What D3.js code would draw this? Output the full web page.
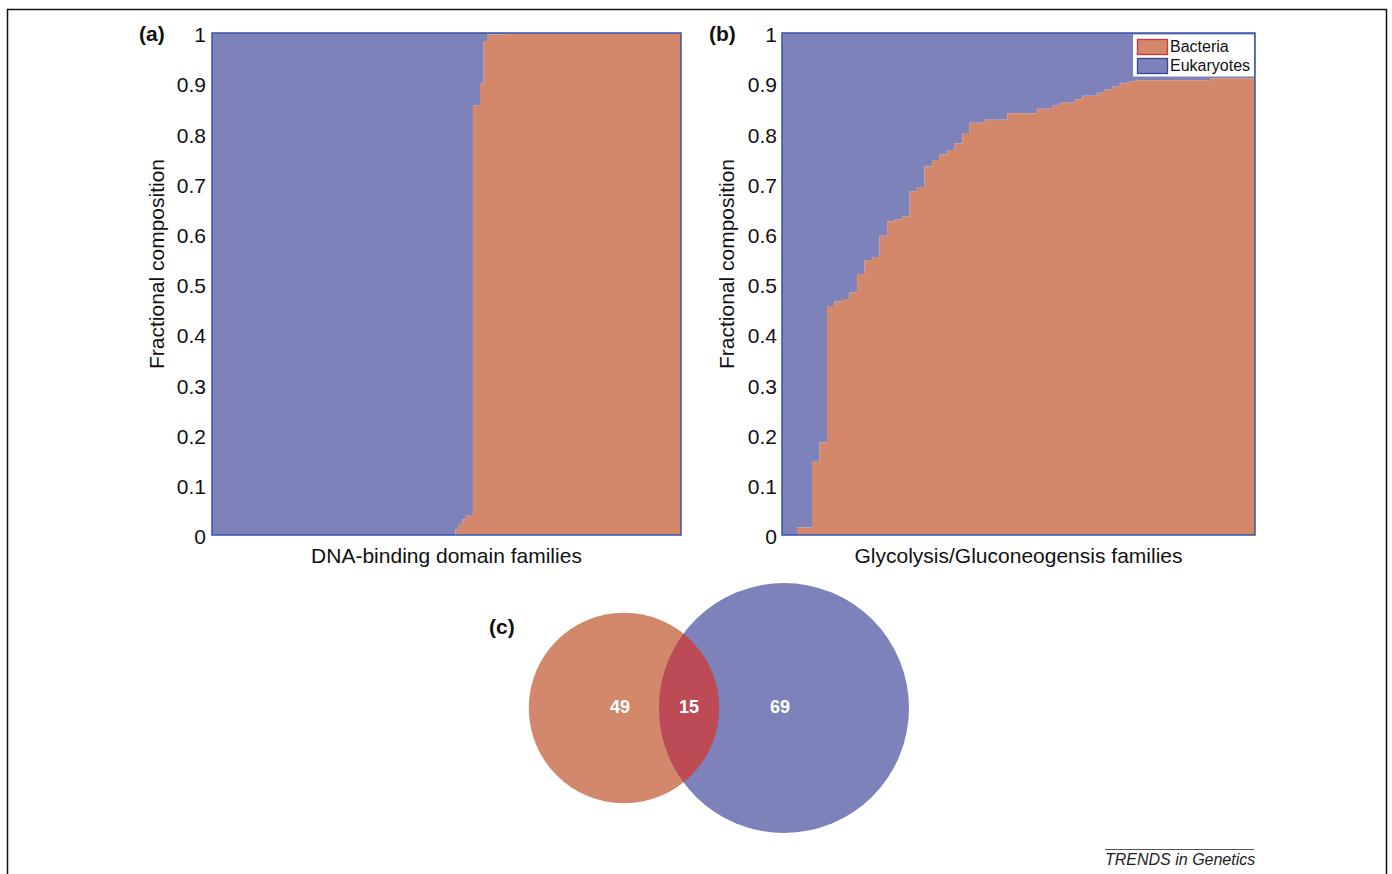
<!DOCTYPE html>
<html>
<head>
<meta charset="utf-8">
<script src="https://cdn.jsdelivr.net/npm/d3@7"></script>
<style>
  body { margin: 0; background: #fff; }
  svg { display: block; font-family: "Liberation Sans", Arial, sans-serif; }
</style>
</head>
<body>
<svg id="fig" width="1392" height="874"></svg>
<script>
// (a) DNA-binding domain families: bacterial fraction, run-length (value, number of families)
const dnaFraction = [0, 0.011, 0.022, 0.031, 0.04, 0.855, 0.9, 0.984, 0.997, 1];
const dnaCount    = [69, 1, 1, 1, 2, 2, 1, 1, 6, 49];

// (b) Glycolysis/Gluconeogenesis families: bacterial fraction, one per family
const glycoFraction = [
  0, 0, 0.015, 0.015, 0.146, 0.185, 0.456, 0.465, 0.47, 0.483,
  0.52, 0.548, 0.554, 0.596, 0.625, 0.629, 0.635, 0.685, 0.693, 0.734,
  0.747, 0.758, 0.767, 0.78, 0.801, 0.821, 0.821, 0.827, 0.827, 0.827,
  0.84, 0.84, 0.84, 0.84, 0.849, 0.849, 0.855, 0.861, 0.861, 0.868,
  0.875, 0.875, 0.881, 0.888, 0.893, 0.9, 0.903, 0.906, 0.906, 0.906,
  0.906, 0.906, 0.906, 0.906, 0.906, 0.906, 0.906, 0.91, 0.91, 0.91,
  0.91, 0.91, 0.91
];

const yTicks      = [0, 0.1, 0.2, 0.3, 0.4, 0.5, 0.6, 0.7, 0.8, 0.9, 1];
const yTickLabels = ["0", "0.1", "0.2", "0.3", "0.4", "0.5", "0.6", "0.7", "0.8", "0.9", "1"];
const legendNames = ["Bacteria", "Eukaryotes"];

// (c) Venn counts: bacteria only, shared, eukaryotes only
const vennLabels = ["49", "15", "69"];
const vennCounts = [49, 15, 69];

const colBact = "#d3886b";
const colEuk  = "#7e82ba";
const colBoth = "#bd4b55";

const svg = d3.select("#fig");

// outer frame
svg.append("path")
  .attr("d", "M7.5,880 V9.5 H1386.5 V880")
  .attr("fill", "none")
  .attr("stroke", "#111")
  .attr("stroke-width", 1.5);

class stackChart {
  init(box, values){
    let $this = this;
    $this.box = box;
    $this.values = values;
    $this.x = d3.scaleLinear().domain([0, values.length]).range([box.left, box.right]);
    $this.y = d3.scaleLinear().domain([0, 1]).range([box.bottom, box.top]);
    // step points, last value repeated at right edge
    $this.pts = values.map((v, i) => ({i: i, v: v}));
    $this.pts.push({i: values.length, v: values[values.length - 1]});
  }
  draw(tag, ylab, xlab, pad){
    let $this = this;
    let g = svg.append("g");
    let x = $this.x, y = $this.y;

    g.append("path")
      .datum($this.pts)
      .attr("fill", colEuk)
      .attr("d", d3.area().curve(d3.curveStepAfter)
        .x(d => x(d.i)).y0(d => y(d.v)).y1(y(1)));

    g.append("path")
      .datum($this.pts)
      .attr("fill", colBact)
      .attr("d", d3.area().curve(d3.curveStepAfter)
        .x(d => x(d.i)).y0(y(0)).y1(d => y(d.v)));

    g.append("rect")
      .attr("x", x.range()[0]).attr("y", y(1))
      .attr("width", x.range()[1] - x.range()[0])
      .attr("height", y(0) - y(1))
      .attr("fill", "none")
      .attr("stroke", "#3553ad")
      .attr("stroke-width", 1.5);

    let ax = g.append("g")
      .attr("transform", "translate(" + x.range()[0] + ",2)")
      .call(d3.axisLeft(y).tickValues(yTicks)
        .tickFormat((d, i) => yTickLabels[i])
        .tickSize(0).tickPadding(pad));
    ax.select(".domain").remove();
    ax.selectAll("text")
      .attr("font-size", 21)
      .attr("font-family", "Liberation Sans, Arial, sans-serif")
      .attr("fill", "#111");

    g.append("text")
      .attr("transform", "translate(" + (x.range()[0] - 48) + "," + ((y(0) + y(1)) / 2 - 20) + ") rotate(-90)")
      .attr("text-anchor", "middle")
      .attr("font-size", 21)
      .attr("fill", "#111")
      .text(ylab);

    g.append("text")
      .attr("x", (x.range()[0] + x.range()[1]) / 2)
      .attr("y", y(0) + 28)
      .attr("text-anchor", "middle")
      .attr("font-size", 21)
      .attr("fill", "#111")
      .text(xlab);

    g.append("text")
      .attr("x", x.range()[0] - 73)
      .attr("y", y(1) + 8)
      .attr("font-size", 21)
      .attr("font-weight", "bold")
      .attr("fill", "#111")
      .text(tag);
    return g;
  }
}

// expand run-length data for panel (a)
let dnaValues = [];
dnaFraction.forEach((v, k) => {
  for (let j = 0; j < dnaCount[k]; j++) dnaValues.push(v);
});

let chartA = new stackChart();
chartA.init({left: 212, right: 681, top: 33, bottom: 535}, dnaValues);
chartA.draw("(a)", "Fractional composition", "DNA-binding domain families", 6);

let chartB = new stackChart();
chartB.init({left: 782, right: 1255, top: 33, bottom: 535}, glycoFraction);
let gB = chartB.draw("(b)", "Fractional composition", "Glycolysis/Gluconeogensis families", 5);

// legend
let leg = gB.append("g");
leg.append("rect")
  .attr("x", 1133).attr("y", 34.5)
  .attr("width", 121).attr("height", 42)
  .attr("fill", "#fff");
leg.selectAll("g.item")
  .data(legendNames)
  .join("g")
  .attr("class", "item")
  .attr("transform", (d, i) => "translate(1137," + (39 + i * 19) + ")")
  .call(s => s.append("rect")
    .attr("x", 0.5).attr("y", 0.5)
    .attr("width", 30).attr("height", 15)
    .attr("fill", (d, i) => i === 0 ? colBact : colEuk)
    .attr("stroke", (d, i) => i === 0 ? "#d0363c" : "#37449a")
    .attr("stroke-width", 1.3))
  .call(s => s.append("text")
    .attr("x", 33).attr("y", 13)
    .attr("font-size", 16)
    .attr("fill", "#111")
    .text(d => d));

// (c) Venn diagram, radius proportional to set size
let setBact = vennCounts[0] + vennCounts[1];
let setEuk  = vennCounts[2] + vennCounts[1];
let r = d3.scaleLinear().domain([0, setEuk]).range([0, 125]);
let cy = 708;
let cxL = 624, cxR = 784;

let venn = svg.append("g");
venn.append("defs").append("clipPath")
  .attr("id", "clipEuk")
  .append("circle")
  .attr("cx", cxR).attr("cy", cy).attr("r", r(setEuk));

venn.append("circle")
  .attr("cx", cxL).attr("cy", cy).attr("r", r(setBact))
  .attr("fill", colBact);
venn.append("circle")
  .attr("cx", cxR).attr("cy", cy).attr("r", r(setEuk))
  .attr("fill", colEuk);
venn.append("circle")
  .attr("cx", cxL).attr("cy", cy).attr("r", r(setBact))
  .attr("clip-path", "url(#clipEuk)")
  .attr("fill", colBoth);

let lensX = ((cxR - r(setEuk)) + (cxL + r(setBact))) / 2;
venn.selectAll("text.num")
  .data(vennLabels)
  .join("text")
  .attr("class", "num")
  .attr("x", (d, i) => [cxL - 4, lensX, cxR - 4][i])
  .attr("y", cy + 5)
  .attr("text-anchor", "middle")
  .attr("font-size", 18)
  .attr("font-weight", "bold")
  .attr("fill", "#fff")
  .text(d => d);

venn.append("text")
  .attr("x", 489).attr("y", 634)
  .attr("font-size", 21)
  .attr("font-weight", "bold")
  .attr("fill", "#111")
  .text("(c)");

// footer
svg.append("line")
  .attr("x1", 1105).attr("x2", 1254)
  .attr("y1", 849.5).attr("y2", 849.5)
  .attr("stroke", "#555").attr("stroke-width", 1);
svg.append("text")
  .attr("x", 1105).attr("y", 865)
  .attr("font-size", 16)
  .attr("font-style", "italic")
  .attr("fill", "#222")
  .text("TRENDS in Genetics");
</script>
</body>
</html>
